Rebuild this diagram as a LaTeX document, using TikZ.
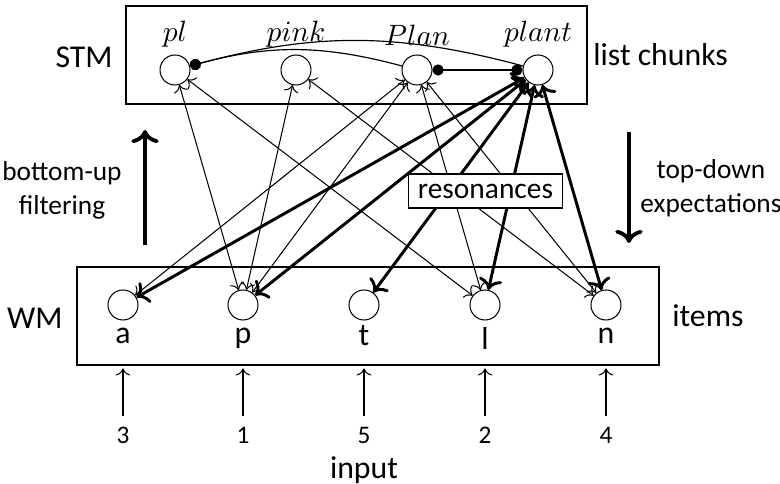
\documentclass[tikz,border=0pt]{standalone}
\usepackage{fontspec}
\setsansfont{Carlito}
\usetikzlibrary{arrows.meta}
\begin{document}
\begin{tikzpicture}[x=0.34pt, y=-0.34pt, font=\sffamily\fontsize{10}{12.2}\selectfont,
  unit/.style={circle, draw, line width=0.35pt, minimum size=10.2pt, inner sep=0pt},
  layerbox/.style={draw, line width=0.4pt, inner sep=0pt},
  chunkname/.style={font=\fontsize{10}{12}\selectfont},
  item/.style={anchor=base, font=\sffamily\fontsize{10.8}{13}\selectfont},
  sidelabel/.style={font=\sffamily\fontsize{10.8}{13}\selectfont},
  dirlabel/.style={align=center, font=\sffamily\fontsize{9.3}{11.6}\selectfont},
  thinlink/.style={<->, line width=0.35pt},
  reslink/.style={<->, line width=1pt},
  inhib/.style={line width=0.4pt},
  dot/.tip={Circle[length=3.8pt, width=3.8pt]},
  flow/.style={->, line width=1.3pt},
  inarrow/.style={->, line width=0.35pt},
  digit/.style={font=\sffamily\fontsize{8.6}{10}\selectfont}]
\useasboundingbox (0,0) rectangle (780,484);

% layers
\node[layerbox, minimum width=156.7pt, minimum height=33.3pt] (stm) at (356.5,55) {};
\node[layerbox, minimum width=197.9pt, minimum height=33.3pt] (wm) at (368,316) {};

% list chunk units
\node[unit] (pl)    at (175,70) {};
\node[unit] (pink)  at (296,70) {};
\node[unit] (Plan)  at (417,70) {};
\node[unit] (plant) at (538,70) {};
\node[chunkname] (lpl)    at (175,34) {$pl$};
\node[chunkname] (lpink)  at (296,34) {$pink$};
\node[chunkname] (lPlan)  at (417,35) {$Plan$};
\node[chunkname] (lplant) at (538,34) {$plant$};

% item units
\node[unit] (a) at (123,305) {};
\node[unit] (p) at (243,305) {};
\node[unit] (t) at (364,305) {};
\node[unit] (l) at (485,305) {};
\node[unit] (n) at (606,305) {};
\node[item] (la) at (123,344) {a};
\node[item] (lp) at (243,344) {p};
\node[item] (lt) at (364,346) {t};
\node[item] (ll) at (485,350) {l};
\node[item] (ln) at (606,344) {n};

% lateral inhibition among chunks
\draw[inhib, -dot] (Plan) to[bend right=15] (pl);
\draw[inhib, -dot] (plant) to[bend right=15] (pl);
\draw[inhib, dot-dot] (Plan) -- (plant);

% bottom-up / top-down links
\draw[thinlink] (pl) -- (p);
\draw[thinlink] (pl) -- (l);
\draw[thinlink] (pink) -- (p);
\draw[thinlink] (pink) -- (n);
\draw[thinlink] (Plan) -- (a);
\draw[thinlink] (Plan) -- (p);
\draw[thinlink] (Plan) -- (l);
\draw[thinlink] (Plan) -- (n);

% resonant links of the winning chunk
\draw[reslink] (plant) -- (a);
\draw[reslink] (plant) -- (p);
\draw[reslink] (plant) -- (t);
\draw[reslink] (plant) -- (l);
\draw[reslink] (plant) -- (n);

\node[draw, fill=white, line width=0.4pt, minimum width=50.6pt, minimum height=10.9pt] (res) at (485.5,191) {resonances};

% layer labels
\node[sidelabel, anchor=east] (stmlabel) at (123,57) {STM};
\node[sidelabel, anchor=west] (chunklabel) at (583,55) {list chunks};
\node[sidelabel, anchor=east] (wmlabel) at (73,318) {WM};
\node[sidelabel, anchor=west] (itemlabel) at (662,316) {items};

% processing directions
\coordinate (bu0) at (145,245);
\coordinate (bu1) at (145,130);
\draw[flow] (bu0) -- (bu1);
\node[dirlabel] (bulabel) at (62,190) {bottom-up\\filtering};
\coordinate (td0) at (629,132);
\coordinate (td1) at (629,243);
\draw[flow] (td0) -- (td1);
\node[dirlabel] (tdlabel) at (711,188) {top-down\\expectations};

% input order
\node[digit] (d3) at (123,435) {3};
\node[digit] (d1) at (243,435) {1};
\node[digit] (d5) at (364,435) {5};
\node[digit] (d2) at (485,435) {2};
\node[digit] (d4) at (606,435) {4};
\foreach \d in {d3,d1,d5,d2,d4}
  \draw[inarrow, shorten >=1pt] (\d.north) -- (\d |- wm.south);
\node[sidelabel] (inputlabel) at (364,470) {input};
\end{tikzpicture}
\end{document}
